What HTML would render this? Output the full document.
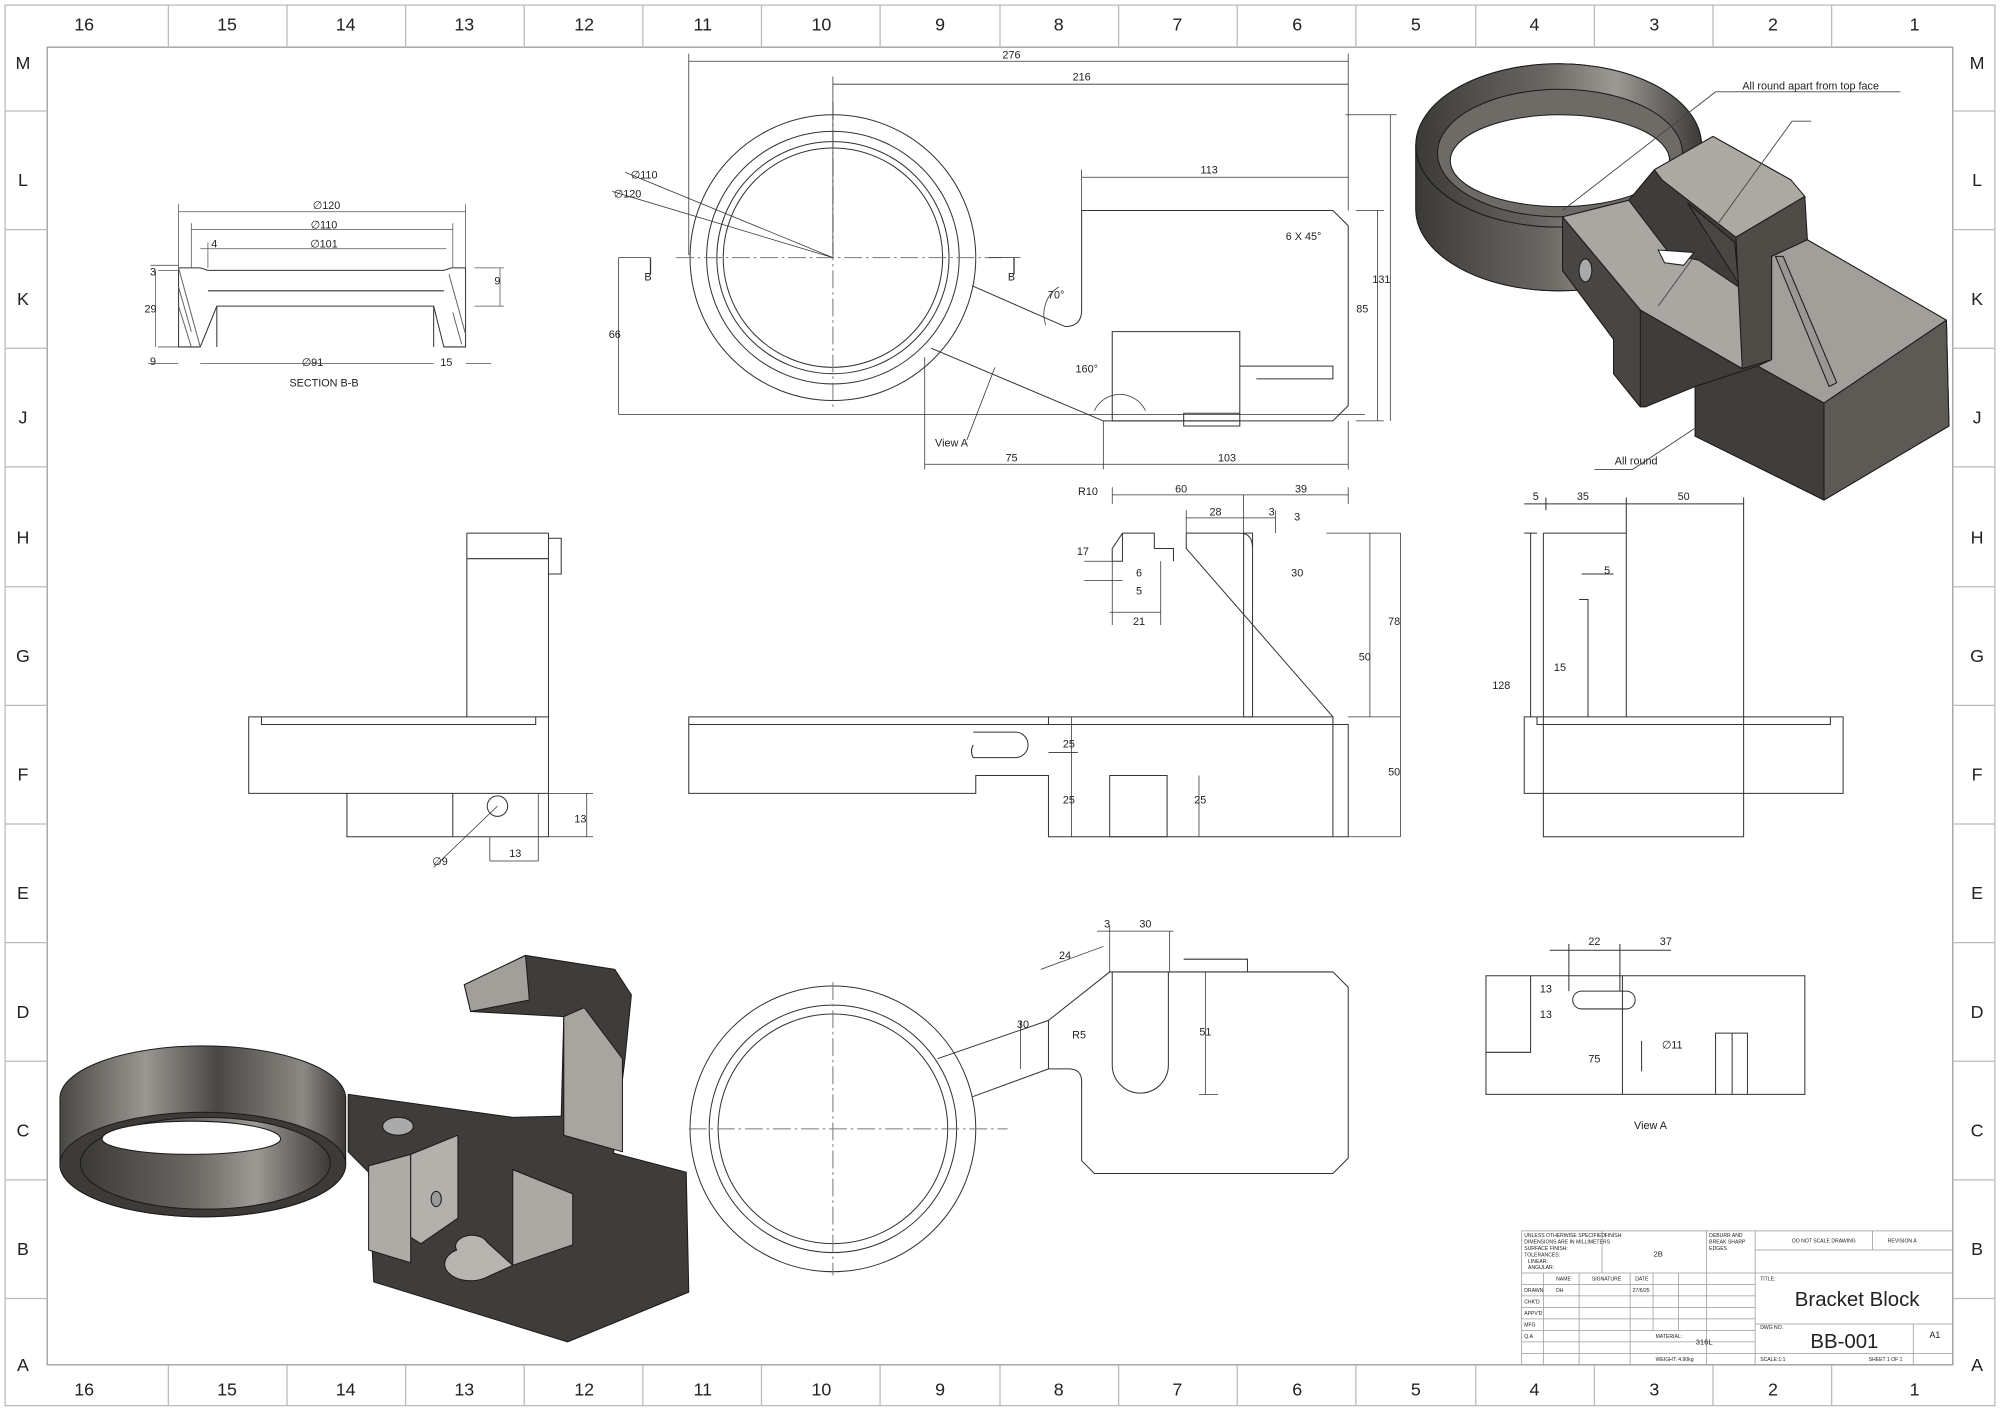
<!DOCTYPE html>
<html><head><meta charset="utf-8"><style>
html,body{margin:0;padding:0;background:#fff}
svg{display:block}
text{font-family:"Liberation Sans",sans-serif;fill:#222}
</style></head><body>
<svg width="2000" height="1412" viewBox="0 0 1568 1107" preserveAspectRatio="none" xmlns="http://www.w3.org/2000/svg">
<defs>
<linearGradient id="rg" x1="0" x2="1"><stop offset="0" stop-color="#3c3a37"/><stop offset="0.45" stop-color="#6a6763"/><stop offset="0.7" stop-color="#9d9a95"/><stop offset="1" stop-color="#3c3a37"/></linearGradient>
<linearGradient id="rg2" x1="0" x2="1"><stop offset="0" stop-color="#4a4844"/><stop offset="0.3" stop-color="#9a9792"/><stop offset="0.55" stop-color="#4a4844"/><stop offset="0.85" stop-color="#8c8984"/><stop offset="1" stop-color="#3c3a37"/></linearGradient>
</defs>
<g fill="none" stroke="#bbb" stroke-width="1">
<rect x="4" y="4" width="1560" height="1098"/>
<rect x="37" y="37" width="1494" height="1033" stroke="#999"/>
<path d="M132 4V37M225 4V37M318 4V37M411 4V37M504 4V37M597 4V37M690 4V37M784 4V37M877 4V37M970 4V37M1063 4V37M1157 4V37M1250 4V37M1343 4V37M1436 4V37
M132 1070V1102M225 1070V1102M318 1070V1102M411 1070V1102M504 1070V1102M597 1070V1102M690 1070V1102M784 1070V1102M877 1070V1102M970 1070V1102M1063 1070V1102M1157 1070V1102M1250 1070V1102M1343 1070V1102M1436 1070V1102
M4 87H37M4 180H37M4 273H37M4 366H37M4 460H37M4 553H37M4 646H37M4 739H37M4 832H37M4 925H37M4 1018H37
M1531 87H1564M1531 180H1564M1531 273H1564M1531 366H1564M1531 460H1564M1531 553H1564M1531 646H1564M1531 739H1564M1531 832H1564M1531 925H1564M1531 1018H1564"/>
</g>
<g font-size="14" text-anchor="middle">
<text x="66" y="24">16</text><text x="178" y="24">15</text><text x="271" y="24">14</text><text x="364" y="24">13</text><text x="458" y="24">12</text><text x="551" y="24">11</text><text x="644" y="24">10</text><text x="737" y="24">9</text><text x="830" y="24">8</text><text x="923" y="24">7</text><text x="1017" y="24">6</text><text x="1110" y="24">5</text><text x="1203" y="24">4</text><text x="1297" y="24">3</text><text x="1390" y="24">2</text><text x="1501" y="24">1</text>
<text x="66" y="1094">16</text><text x="178" y="1094">15</text><text x="271" y="1094">14</text><text x="364" y="1094">13</text><text x="458" y="1094">12</text><text x="551" y="1094">11</text><text x="644" y="1094">10</text><text x="737" y="1094">9</text><text x="830" y="1094">8</text><text x="923" y="1094">7</text><text x="1017" y="1094">6</text><text x="1110" y="1094">5</text><text x="1203" y="1094">4</text><text x="1297" y="1094">3</text><text x="1390" y="1094">2</text><text x="1501" y="1094">1</text>
<g>
<text x="18" y="54">M</text><text x="18" y="146">L</text><text x="18" y="239">K</text><text x="18" y="332">J</text><text x="18" y="426">H</text><text x="18" y="519">G</text><text x="18" y="612">F</text><text x="18" y="705">E</text><text x="18" y="798">D</text><text x="18" y="891">C</text><text x="18" y="984">B</text><text x="18" y="1075">A</text>
<text x="1550" y="54">M</text><text x="1550" y="146">L</text><text x="1550" y="239">K</text><text x="1550" y="332">J</text><text x="1550" y="426">H</text><text x="1550" y="519">G</text><text x="1550" y="612">F</text><text x="1550" y="705">E</text><text x="1550" y="798">D</text><text x="1550" y="891">C</text><text x="1550" y="984">B</text><text x="1550" y="1075">A</text>
</g></g>

<g fill="none" stroke="#333" stroke-width="0.8">
<path d="M140 210H157L163 212H348L354 210H365V272H348L340 240H170L157 272H140Z"/>
<path d="M170 240V272M340 240V272M163 228H348"/>
<path d="M140 210L157 272M140 225L150 260M352 215L365 262M140 240L150 272M355 245L362 270" stroke="#666"/>
<path d="M140 166H365M150 180H355M157 195H350M140 160V210M365 160V210M150 175V210M355 175V210M163 190V210M124 212H140M124 272H140M122 212V272M118 208H140M372 210H395M372 240H395M392 210V240M116 285H140M157 285H340M365 285H385" stroke="#555" stroke-width="0.6"/>
<circle cx="653" cy="202" r="112"/><circle cx="653" cy="202" r="99"/><circle cx="653" cy="202" r="91"/><circle cx="653" cy="202" r="86"/>
<path d="M762 224L835 256Q848 256 848 243V165H1045L1057 177V318L1045 330H865L730 273"/>
<path d="M872 260H972V330H872ZM928 324H972V334H928ZM972 287H1045V297H985" />
<path d="M530 202H790M653 80V320" stroke-dasharray="14 3 2 3" stroke="#777"/>
<path d="M540 48H1057M653 66H1057M848 139H1057M540 42V200M1057 42V165M653 60V200M848 133V165M485 325H1070M485 202V325M1063 165H1085M1063 330H1085M1080 165V330M1055 90H1095M1090 90V330M725 364H1057M725 280V368M865 330V368M1057 330V368M780 288L758 345M490 135L653 202M480 150L653 202M485 202H510M775 202H800" stroke-width="0.6"/>
<path d="M510 202V215M795 202V215" stroke-width="1"/>
<path d="M820 255A25 25 0 0 1 830 225M858 322A22 22 0 0 1 898 322" stroke-width="0.6"/>
<path d="M195 562H430V622H195ZM205 562V568H420V562M272 622V656H430V622M355 622V656M366 418V562M430 418V562M366 418H430M366 438H430M430 422H440V450H430"/>
<circle cx="390" cy="632" r="8"/>
<path d="M384 675H422M422 622V675M430 622H465M430 656H465M460 622V656M340 680L390 632M384 656V675" stroke-width="0.6"/>
<path d="M540 562H822V568H540ZM540 568V622H765V608H822V656H1057V568H1045V562H822M822 568H1045M1045 568V656"/>
<path d="M870 608H915V656H870ZM763 584a10 10 0 0 0 0 10h33a10 10 0 0 0 0-20h-33"/>
<path d="M975 418H982V562H975ZM930 418H972Q982 418 982 430M930 418V430L1045 562M880 418L872 430V440H880V418H905V430H920V440"/>
<path d="M872 388H1057M975 388V418M930 406H1000M1040 418H1098M1098 418V656M1057 562H1098M1074 418V562M1057 656H1098M822 590H845M840 562V656M870 480H910M872 440V490M910 440V490M850 440H872M850 455H880M872 382V395M1057 382V395M930 400V418M1000 400V418" stroke-width="0.6"/>
<path d="M940 608V656" stroke-width="0.6"/>
<path d="M1195 562H1445V622H1195ZM1205 562V568H1435V562M1210 418V656H1367V562M1210 418H1275V562M1238 470H1245V562M1195 418H1205M1200 418V562M1195 395H1367M1212 390V400M1275 390V420M1367 390V562M1240 450H1265"/>
<circle cx="653" cy="885" r="112"/><circle cx="653" cy="885" r="97"/><circle cx="653" cy="885" r="90"/>
<path d="M735 830L822 800L870 762H1045L1057 774V908L1045 920H858L848 910V848Q848 838 838 838L822 838L762 860"/>
<path d="M872 762V835a22 22 0 0 0 44 0V762M928 752H978V762M822 800V838"/>
<path d="M540 885H790M653 770V1000" stroke-dasharray="14 3 2 3" stroke="#777"/>
<path d="M870 726V762M917 730V762M860 730H920M816 760L865 742M800 800V838M945 762V858M940 858H955" stroke-width="0.6"/>
<path d="M1165 765H1415V858H1165ZM1200 765V825H1165M1272 765V858M1345 810V858H1370V810ZM1358 810V858M1240 777H1275a7 7 0 0 1 0 14H1240a7 7 0 0 1 0-14M1287 816V840M1215 745H1310M1230 740V777M1270 740V777"/>
</g>
<g font-size="8.5" text-anchor="middle">
<text x="256" y="164">∅120</text><text x="254" y="179">∅110</text><text x="254" y="194">∅101</text><text x="168" y="194">4</text><text x="120" y="216">3</text><text x="390" y="223">9</text><text x="118" y="245">29</text><text x="120" y="286">9</text><text x="245" y="287">∅91</text><text x="350" y="287">15</text>
<text x="254" y="303">SECTION B-B</text>
<text x="793" y="46">276</text><text x="848" y="63">216</text><text x="948" y="136">113</text><text x="1083" y="222">131</text><text x="1068" y="245">85</text><text x="482" y="265">66</text>
<text x="793" y="362">75</text><text x="962" y="362">103</text><text x="746" y="350">View A</text><text x="505" y="140">∅110</text><text x="492" y="155">∅120</text>
<text x="828" y="234">70°</text><text x="852" y="292">160°</text><text x="1022" y="188">6 X 45°</text>
<text x="508" y="220">B</text><text x="793" y="220">B</text>
<text x="926" y="386">60</text><text x="1020" y="386">39</text><text x="953" y="404">28</text><text x="997" y="404">3</text><text x="1017" y="408">3</text><text x="1017" y="452">30</text><text x="1093" y="490">78</text><text x="1070" y="518">50</text><text x="1093" y="608">50</text><text x="838" y="586">25</text><text x="838" y="630">25</text><text x="941" y="630">25</text>
<text x="853" y="388">R10</text><text x="849" y="435">17</text><text x="893" y="452">6</text><text x="893" y="466">5</text><text x="893" y="490">21</text>
<text x="1204" y="392">5</text><text x="1241" y="392">35</text><text x="1320" y="392">50</text><text x="1260" y="450">5</text><text x="1223" y="526">15</text><text x="1177" y="540">128</text>
<text x="404" y="672">13</text><text x="455" y="645">13</text><text x="345" y="678">∅9</text>
<text x="868" y="727">3</text><text x="898" y="727">30</text><text x="835" y="752">24</text><text x="802" y="806">30</text><text x="846" y="814">R5</text><text x="945" y="812">51</text>
<text x="1250" y="741">22</text><text x="1306" y="741">37</text><text x="1212" y="778">13</text><text x="1212" y="798">13</text><text x="1250" y="833">75</text><text x="1311" y="822">∅11</text><text x="1294" y="885">View A</text>
</g>

<g stroke="#1a1a1a" stroke-width="0.8" stroke-linejoin="round">
<path d="M1110 114A112 64 0 0 1 1334 114V164A112 64 0 0 1 1110 164Z" fill="#4a4844"/>
<path d="M1110 114A112 64 0 0 0 1334 114V164A112 64 0 0 1 1110 164Z" fill="url(#rg)"/>
<ellipse cx="1222" cy="114" rx="112" ry="64" fill="url(#rg)"/>
<ellipse cx="1223" cy="120" rx="96" ry="50" fill="#6e6b66"/>
<ellipse cx="1223" cy="126" rx="86" ry="36" fill="#fff"/>
<path d="M1225 170L1277 157L1297 133L1343 107L1404 141L1417 188L1526 251L1528 334L1430 392L1329 342L1329 303L1290 319L1286 319L1265 293L1265 266L1225 212Z" fill="#3f3c39"/>
<path d="M1225 170L1277 157L1309 199L1332 204L1363 225L1366 289L1286 243Z" fill="#aaa7a2"/>
<path d="M1300 196L1328 198L1320 208L1305 206Z" fill="#fff"/>
<path d="M1297 133L1343 107L1404 141L1415 154L1361 186L1303 141Z" fill="#aca9a3"/>
<path d="M1361 186L1415 154L1417 188L1389 201L1389 282L1366 289Z" fill="#4f4c48"/>
<path d="M1323 159L1363 222L1360 190Z" fill="#4a4743"/>
<path d="M1389 201L1417 188L1526 251L1430 316L1378 287L1389 282Z" fill="#a29f9a"/>
<path d="M1430 316L1526 251L1528 334L1430 392Z" fill="#5d5a56"/>
<path d="M1329 303L1378 287L1430 316L1430 392L1329 342Z" fill="#403d3a"/>
<path d="M1392 201L1398 201L1440 300L1434 303Z" fill="#9a9792"/>
<path d="M1286 243L1286 319L1265 293L1265 266L1225 212L1225 170Z" fill="#484542"/>
<ellipse cx="1243" cy="212" rx="5" ry="9" fill="#aaa"/>
</g>
<g stroke="#1a1a1a" stroke-width="0.8" stroke-linejoin="round">
<path d="M364 772L412 749L482 760L495 780L490 830L481 904L538 919L540 1013L445 1052L293 1005L289 919L273 903L273 858L402 876L440 875L442 797L369 793Z" fill="#3f3c39"/>
<path d="M442 797L458 790L488 830L488 903L442 890Z" fill="#a8a5a0"/>
<path d="M364 772L412 749L415 784L369 793Z" fill="#a29f9a"/>
<path d="M289 914L322 905L322 990L289 980Z" fill="#aeaba6"/>
<path d="M322 905L359 890V955L330 975L322 970Z" fill="#b4b1ac"/>
<path d="M402 917L449 936L449 976L402 992Z" fill="#aca9a4"/>
<path d="M358 980a12 8 0 0 1 24 -6L402 992L380 1002a14 9 0 0 1-22-22Z" fill="#b8b5b0"/>
<path d="M47 861A112 41 0 0 1 271 861V913A112 41 0 0 1 47 913Z" fill="url(#rg2)"/>
<ellipse cx="159" cy="913" rx="112" ry="41" fill="#3d3a37"/>
<ellipse cx="161" cy="912" rx="98" ry="36" fill="url(#rg)"/>
<path d="M80 893A70 14 0 0 1 220 893A70 12 0 0 1 80 893Z" fill="#fff"/>
<ellipse cx="312" cy="883" rx="12" ry="7" fill="#aaa"/>
<ellipse cx="342" cy="940" rx="4" ry="6" fill="#999"/>
</g>

<g fill="none" stroke="#444" stroke-width="0.7">
<path d="M1225 165L1345 72H1490M1300 240L1405 95H1420M1330 335L1280 368H1250"/>
</g>
<g font-size="8.5"><text x="1366" y="70">All round apart from top face</text><text x="1266" y="364">All round</text></g>

<g fill="none" stroke="#999" stroke-width="0.6">
<rect x="1193" y="965" width="338" height="105"/>
<path d="M1193 998H1531M1256 965V998M1338 965V1070M1376 965V1070M1468 965V980M1376 980H1531M1193 1007H1376M1193 1016H1376M1193 1025H1376M1193 1034H1376M1193 1043H1376M1193 1052H1376M1193 1061H1531M1210 998V1070M1238 998V1070M1278 998V1070M1296 998V1043M1316 998V1043M1296 1043H1376M1376 1038H1531M1500 1038V1061M1500 1061V1070"/>
</g>
<g font-size="4" fill="#555">
<text x="1195" y="970">UNLESS OTHERWISE SPECIFIED:</text><text x="1195" y="975">DIMENSIONS ARE IN MILLIMETERS</text><text x="1195" y="980">SURFACE FINISH:</text><text x="1195" y="985">TOLERANCES:</text><text x="1198" y="990">LINEAR:</text><text x="1198" y="995">ANGULAR:</text>
<text x="1258" y="970">FINISH:</text><text x="1340" y="970">DEBURR AND</text><text x="1340" y="975">BREAK SHARP</text><text x="1340" y="980">EDGES</text>
<text x="1405" y="974">DO NOT SCALE DRAWING</text><text x="1480" y="974">REVISION A</text>
<text x="1220" y="1004">NAME</text><text x="1248" y="1004">SIGNATURE</text><text x="1282" y="1004">DATE</text>
<text x="1195" y="1013">DRAWN</text><text x="1220" y="1013">DH</text><text x="1280" y="1013">27/6/25</text><text x="1195" y="1022">CHK'D</text><text x="1195" y="1031">APPV'D</text><text x="1195" y="1040">MFG</text><text x="1195" y="1049">Q.A</text>
<text x="1298" y="1049">MATERIAL:</text><text x="1298" y="1067">WEIGHT: 4.90kg</text><text x="1380" y="1004">TITLE:</text><text x="1380" y="1042">DWG NO.</text><text x="1380" y="1067">SCALE:1:1</text><text x="1465" y="1067">SHEET 1 OF 1</text>
</g>
<g text-anchor="middle">
<text x="1300" y="985" font-size="6">2B</text><text x="1336" y="1054" font-size="6">316L</text>
<text x="1456" y="1024" font-size="16">Bracket Block</text>
<text x="1446" y="1057" font-size="16">BB-001</text>
<text x="1517" y="1049" font-size="7">A1</text>
</g>
</svg>
</body></html>
